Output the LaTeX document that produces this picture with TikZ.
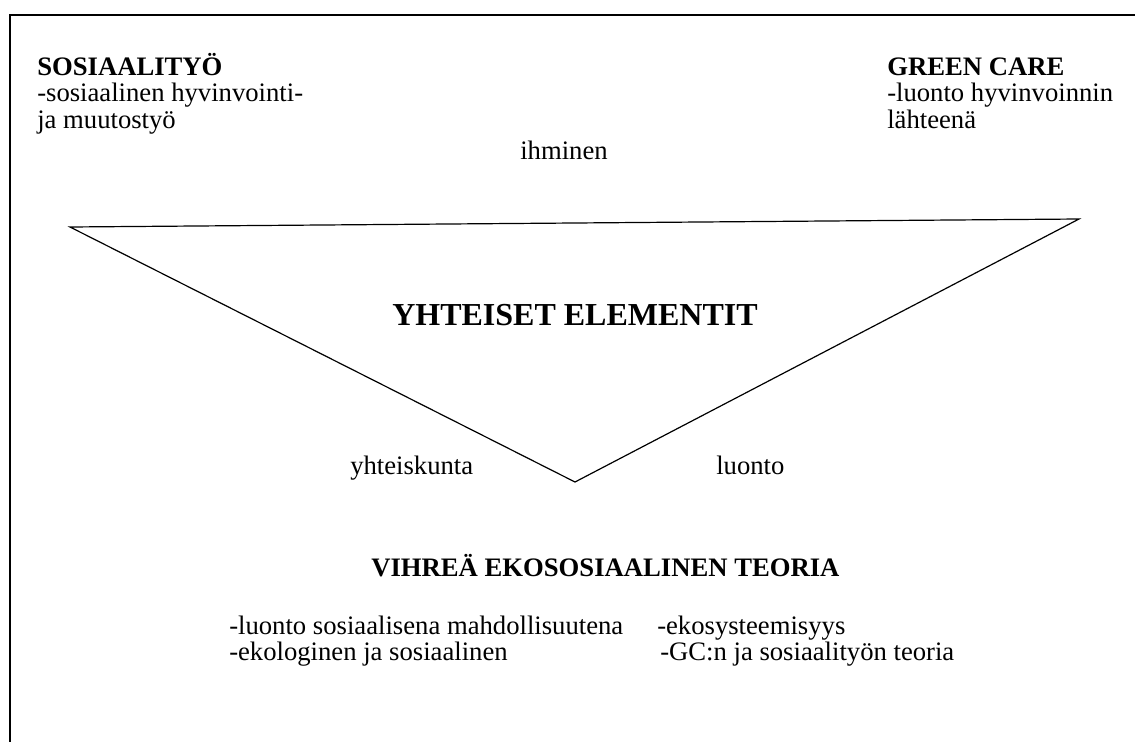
\documentclass[tikz,border=0pt]{standalone}
\usepackage{xcolor}
\usepackage{fontspec}
\setmainfont{Liberation Serif}

\tikzset{
  txt/.style={anchor=base west, inner sep=0pt, font=\fontsize{20}{24}\selectfont},
  hdr/.style={anchor=base west, inner sep=0pt, font=\fontsize{20}{24}\selectfont\bfseries},
  bighdr/.style={anchor=base west, inner sep=0pt, font=\fontsize{24}{28}\selectfont\bfseries}
}

\begin{document}
\begin{tikzpicture}[x=0.75pt,y=0.75pt,yscale=-1,xscale=1]
	\useasboundingbox (0,0) rectangle (1135,742);
	
	%Frame (open to the right and bottom)
	\coordinate (frameBL) at (9.5,742);
	\coordinate (frameTL) at (9.5,15);
	\coordinate (frameTR) at (1135,15);
	\draw [line width=1.5pt] (frameBL) -- (frameTL) -- (frameTR) ;
	
	%Shape: Triangle
	\coordinate (triL) at (70,227);
	\coordinate (triR) at (1079,219);
	\coordinate (triTip) at (575,482);
	\draw [line width=0.9pt] (triL) -- (triR) -- (triTip) -- cycle ;
	
	% Text Node
	\draw (37,76) node (sosTitle) [hdr] {SOSIAALITYÖ};
	% Text Node
	\draw (37,102) node (sosLineA) [txt] {-sosiaalinen hyvinvointi-};
	% Text Node
	\draw (37,128) node (sosLineB) [txt] {ja muutostyö};
	% Text Node
	\draw (887,76) node (gcTitle) [hdr] {GREEN CARE};
	% Text Node
	\draw (887,102) node (gcLineA) [txt] {-luonto hyvinvoinnin};
	% Text Node
	\draw (887,128) node (gcLineB) [txt] {lähteenä};
	% Text Node
	\draw (520,159) node (ihminen) [txt] {ihminen};
	% Text Node
	\draw (392,325) node (yhteiset) [bighdr] {YHTEISET ELEMENTIT};
	% Text Node
	\draw (350,474) node (yhteiskunta) [txt] {yhteiskunta};
	% Text Node
	\draw (716,474) node (luonto) [txt] {luonto};
	% Text Node
	\draw (371,576) node (vihrea) [hdr] {VIHREÄ EKOSOSIAALINEN TEORIA};
	% Text Node
	\draw (229,634) node (teoriaA) [txt] {-luonto sosiaalisena mahdollisuutena};
	% Text Node
	\draw (657,634) node (teoriaB) [txt] {-ekosysteemisyys};
	% Text Node
	\draw (229,660) node (teoriaC) [txt] {-ekologinen ja sosiaalinen};
	% Text Node
	\draw (660,660) node (teoriaD) [txt] {-GC:n ja sosiaalityön teoria};
	
\end{tikzpicture}
\end{document}
